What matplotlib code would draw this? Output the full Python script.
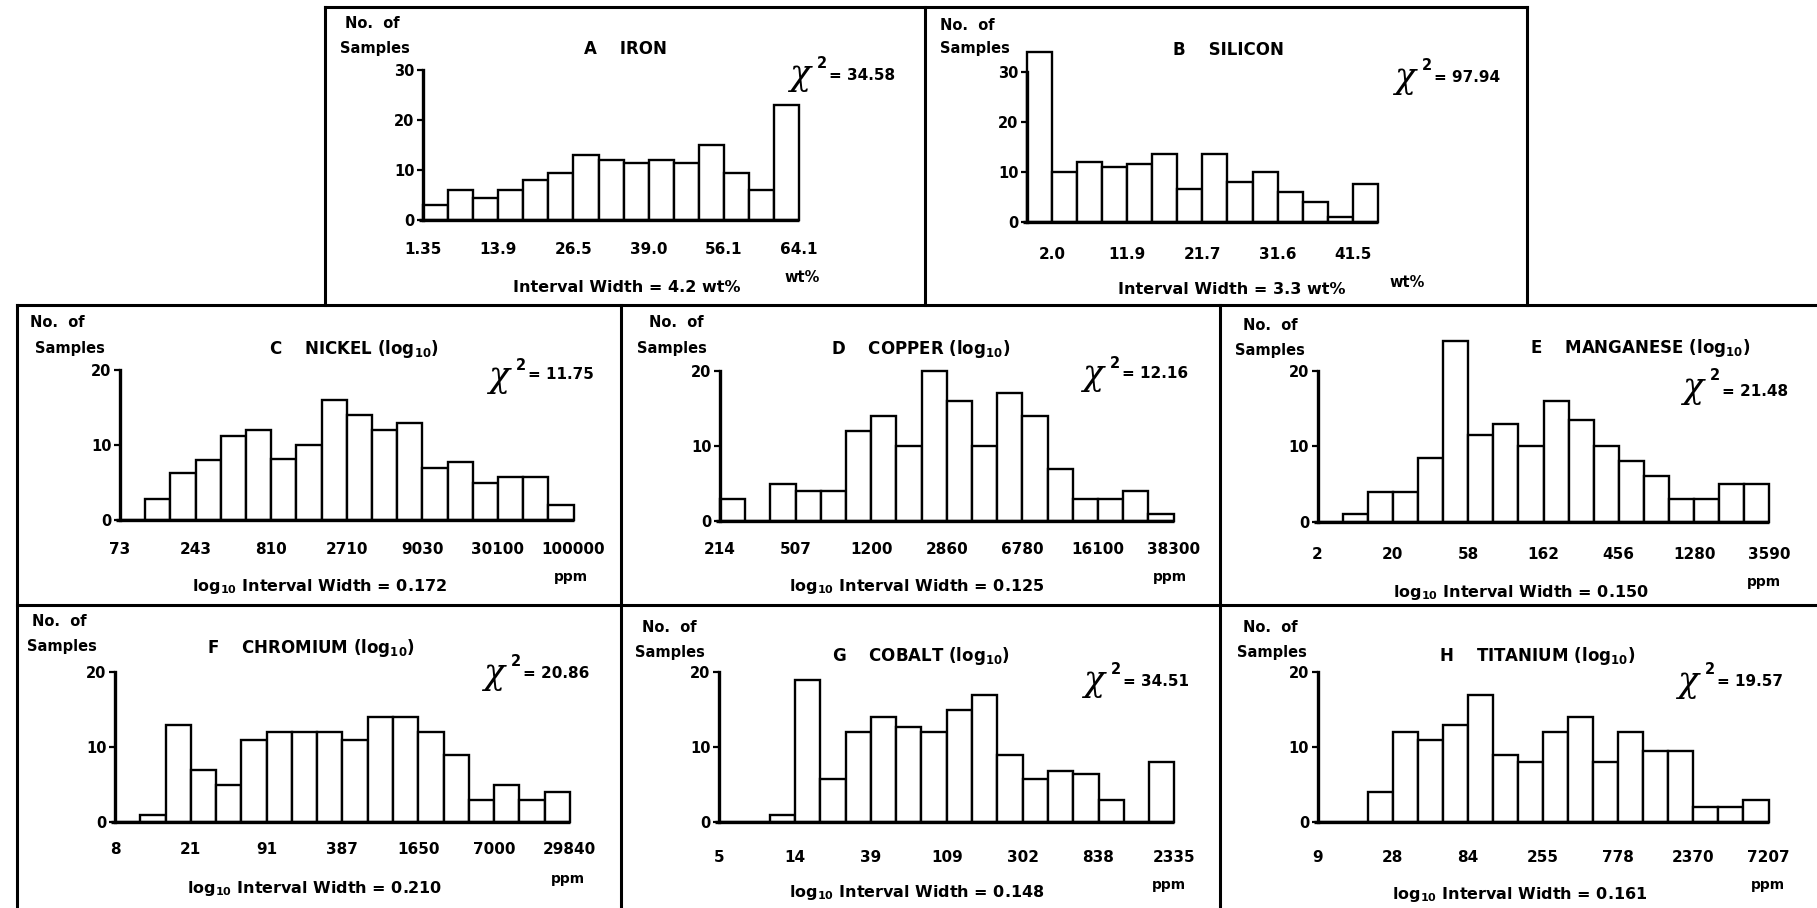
import numpy as np
import matplotlib
matplotlib.use("Agg")
import matplotlib.pyplot as plt
from matplotlib.lines import Line2D

plt.rcParams['font.family'] = ['DejaVu Sans']
plt.rcParams['font.weight'] = 'bold'
plt.rcParams['mathtext.default'] = 'bf'

W, H = 1817, 908

# ---------------- data ----------------
iron_counts = [3, 6, 4.5, 6, 8, 9.5, 13, 12, 11.5, 12, 11.5, 15, 9.5, 6, 23]
iron_ticks = ["1.35", "13.9", "26.5", "39.0", "56.1", "64.1"]

silicon_counts = [34, 10, 12, 11, 11.5, 13.5, 6.5, 13.5, 8, 10, 6, 4, 1, 7.5]
silicon_ticks = ["2.0", "11.9", "21.7", "31.6", "41.5"]

nickel_counts = [0, 2.8, 6.3, 8, 11.2, 12, 8.2, 10, 16, 14, 12, 13, 6.9, 7.8, 5, 5.8, 5.8, 2]
nickel_ticks = ["73", "243", "810", "2710", "9030", "30100", "100000"]

copper_counts = [3, 0, 5, 4, 4, 12, 14, 10, 20, 16, 10, 17, 14, 7, 3, 3, 4, 1]
copper_ticks = ["214", "507", "1200", "2860", "6780", "16100", "38300"]

manganese_counts = [0, 1, 4, 4, 8.5, 24, 11.5, 13, 10, 16, 13.5, 10, 8, 6, 3, 3, 5, 5]
manganese_ticks = ["2", "20", "58", "162", "456", "1280", "3590"]

chromium_counts = [0, 1, 13, 7, 5, 11, 12, 12, 12, 11, 14, 14, 12, 9, 3, 5, 3, 4]
chromium_ticks = ["8", "21", "91", "387", "1650", "7000", "29840"]

cobalt_counts = [0, 0, 1, 19, 5.8, 12, 14, 12.7, 12, 15, 17, 9, 5.8, 6.8, 6.4, 3, 0, 8]
cobalt_ticks = ["5", "14", "39", "109", "302", "838", "2335"]

titanium_counts = [0, 0, 4, 12, 11, 13, 17, 9, 8, 12, 14, 8, 12, 9.5, 9.5, 2, 2, 3]
titanium_ticks = ["9", "28", "84", "255", "778", "2370", "7207"]

panel_letters = ["A", "B", "C", "D", "E", "F", "G", "H"]
element_names = ["IRON", "SILICON", "NICKEL", "COPPER", "MANGANESE",
                 "CHROMIUM", "COBALT", "TITANIUM"]
chi_values = ["34.58", "97.94", "11.75", "12.16", "21.48", "20.86", "34.51", "19.57"]
interval_widths = ["4.2 wt%", "3.3 wt%", "0.172", "0.125", "0.150", "0.210", "0.148", "0.161"]
log_scaled = [False, False, True, True, True, True, True, True]
units = ["wt%", "wt%", "ppm", "ppm", "ppm", "ppm", "ppm", "ppm"]

counts_all = [iron_counts, silicon_counts, nickel_counts, copper_counts,
              manganese_counts, chromium_counts, cobalt_counts, titanium_counts]
ticks_all = [iron_ticks, silicon_ticks, nickel_ticks, copper_ticks,
             manganese_ticks, chromium_ticks, cobalt_ticks, titanium_ticks]

# ---------------- layout (pixels) ----------------
# axis x, bin width, baseline y, top-tick y, top-tick value, tick-label drop,
# first labelled bin edge, title centre, "No. of" left, chi anchor,
# interval-text centre, unit position
layout = [
    dict(xa=423, bw=25.08, y0=220, yt=70, ymax=30, drop=30, off=0,
         title=(625, 49), nof=(345, 23), smp=(340, 48), chi=(800, 75), eq=76,
         inter=(627, 288), unit=(802, 278)),
    dict(xa=1027, bw=25.06, y0=221.7, yt=71.7, ymax=30, drop=33, off=1,
         title=(1228, 50), nof=(940, 25), smp=(940, 49), chi=(1405, 78), eq=77,
         inter=(1232, 290), unit=(1407, 282)),
    dict(xa=120, bw=25.2, y0=520, yt=370, ymax=20, drop=30, off=0,
         title=(354, 349), nof=(30, 323), smp=(35, 348), chi=(499, 377), eq=375,
         inter=(320, 587), unit=(571, 577)),
    dict(xa=720, bw=25.2, y0=521, yt=371, ymax=20, drop=29, off=0,
         title=(921, 349), nof=(649, 323), smp=(637, 348), chi=(1093, 375), eq=374,
         inter=(917, 587), unit=(1170, 577)),
    dict(xa=1317.6, bw=25.1, y0=521.7, yt=371, ymax=20, drop=33, off=0,
         title=(1640, 348), nof=(1243, 325), smp=(1235, 350), chi=(1693, 388), eq=391,
         inter=(1521, 592), unit=(1764, 582)),
    dict(xa=115, bw=25.27, y0=822, yt=672, ymax=20, drop=28, off=0,
         title=(311, 648), nof=(32, 622), smp=(27, 647), chi=(494, 674), eq=674,
         inter=(314, 889), unit=(568, 879)),
    dict(xa=719, bw=25.3, y0=822, yt=672, ymax=20, drop=35, off=0,
         title=(921, 656), nof=(642, 627), smp=(635, 652), chi=(1094, 681), eq=682,
         inter=(917, 892), unit=(1169, 885)),
    dict(xa=1317.6, bw=25.05, y0=822, yt=672, ymax=20, drop=35, off=0,
         title=(1537, 656), nof=(1243, 627), smp=(1237, 652), chi=(1688, 682), eq=682,
         inter=(1520, 894), unit=(1768, 885)),
]

fig = plt.figure(figsize=(W / 100, H / 100), dpi=100)
fig.patch.set_facecolor('white')


def put(x, y, s, **kw):
    return fig.text(x / W, 1 - y / H, s, **kw)


def rule(xs, ys, lw=2.2):
    fig.add_artist(Line2D([x / W for x in xs], [1 - y / H for y in ys],
                          color='black', lw=lw, solid_capstyle='projecting'))


# panel frames
rule([325, 1527], [7, 7])
rule([325, 325], [7, 305])
rule([925, 925], [7, 305])
rule([1527, 1527], [7, 305])
rule([17, W], [305, 305])
rule([17, W], [605, 605])
rule([17, 17], [305, H])
rule([621, 621], [305, H])
rule([1220, 1220], [305, H])

for i, lay in enumerate(layout):
    counts = counts_all[i]
    nb = len(counts)
    left = lay['xa'] / W
    width = nb * lay['bw'] / W
    bottom = 1 - lay['y0'] / H
    height = (lay['y0'] - lay['yt']) / H
    ax = fig.add_axes([left, bottom, width, height])
    ax.set_xlim(0, nb)
    ax.set_ylim(0, lay['ymax'])
    ax.patch.set_alpha(0)
    for side in ['top', 'right', 'bottom']:
        ax.spines[side].set_visible(False)
    ax.spines['left'].set_linewidth(2.4)
    ax.set_xticks([])
    ax.set_yticks(np.arange(0, lay['ymax'] + 1, 10))
    ax.tick_params(axis='y', length=4, width=1.6, labelsize=10.5, pad=2)

    ax.bar(np.arange(nb), counts, width=1, align='edge', facecolor='white',
           edgecolor='black', linewidth=1.7, clip_on=False, zorder=2)
    ax.plot([-0.15, nb], [0, 0], color='black', lw=2.4, clip_on=False,
            solid_capstyle='butt', zorder=3)

    for k, lab in enumerate(ticks_all[i]):
        ax.annotate(lab, xy=(lay['off'] + 3 * k, 0), xytext=(0, -lay['drop']),
                    textcoords='offset pixels', ha='center', va='center',
                    fontsize=11, annotation_clip=False)

    name = f"{panel_letters[i]}    {element_names[i]}"
    if log_scaled[i]:
        name += r" (log$_{10}$)"
    put(*lay['title'], name, ha='center', va='center', fontsize=12)

    put(*lay['nof'], "No.  of", ha='left', va='center', fontsize=10.5)
    put(*lay['smp'], "Samples", ha='left', va='center', fontsize=10.5)

    cx, cy = lay['chi']
    put(cx, cy, "χ", ha='center', va='center', fontsize=25,
        fontweight='normal', style='italic', family='DejaVu Serif')
    put(cx + 22, cy - 12, "2", ha='center', va='center', fontsize=10.5)
    put(cx + 29, lay['eq'], f"= {chi_values[i]}", ha='left', va='center',
        fontsize=11)

    if log_scaled[i]:
        itxt = r"log$_{10}$ Interval Width = " + interval_widths[i]
    else:
        itxt = "Interval Width = " + interval_widths[i]
    put(*lay['inter'], itxt, ha='center', va='center', fontsize=11.5)

    usize = 10.5 if units[i] == "wt%" else 10
    put(*lay['unit'], units[i], ha='center', va='center', fontsize=usize)

fig.savefig("out.png", dpi=100, facecolor='white')
